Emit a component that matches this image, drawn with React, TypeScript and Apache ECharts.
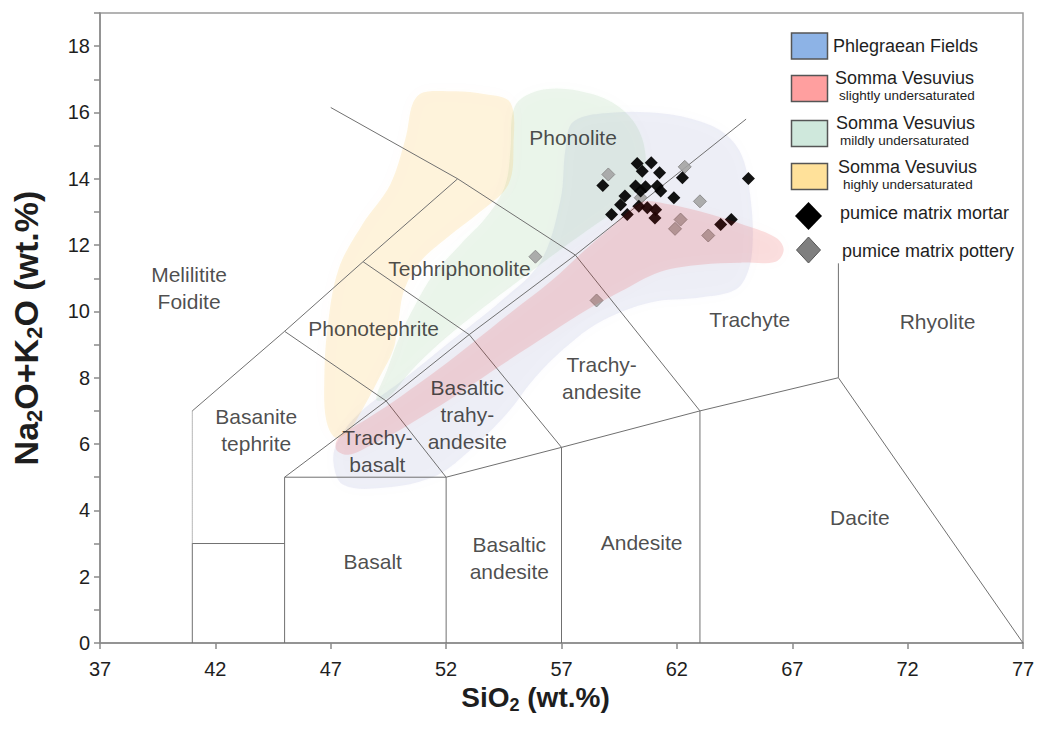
import React, { useEffect, useRef } from 'react';
import * as echarts from 'echarts';

const FONT = '"Liberation Sans", Arial, Helvetica, sans-serif';
const TEXT = '#1e1e1e';

// Axis ticks
const xTickValues = [37, 42, 47, 52, 57, 62, 67, 72, 77];
const yLabelValues = [0, 2, 4, 6, 8, 10, 12, 14, 16, 18];

// TAS boundary lines (SiO2, Na2O+K2O)
const tasSolidLines = [
  [[41, 0], [41, 3], [45, 3]],
  [[45, 0], [45, 5], [52, 5], [52, 0]],
  [[52, 5], [57, 5.9], [63, 7], [69, 8], [77, 0]],
  [[57, 0], [57, 5.9]],
  [[63, 0], [63, 7]],
  [[69, 8], [69, 11.45]],
  [[49.4, 7.3], [52, 5]],
  [[53, 9.3], [57, 5.9]],
  [[57.6, 11.7], [63, 7]],
  [[45, 9.4], [49.4, 7.3]],
  [[48.4, 11.5], [53, 9.3]],
  [[47, 16.15], [52.5, 14], [57.6, 11.7]],
  [[45, 5], [49.4, 7.3], [53, 9.3], [57.6, 11.7], [65, 15.8]],
  [[41, 7], [45, 9.4], [48.4, 11.5], [52.5, 14]],
];
const tasDottedLines = [[[41, 3], [41, 7]]];

// Compositional fields
const phlegraeanField = [
  [57.52, 15.73], [59.26, 16.0], [61.43, 15.97], [63.03, 15.73], [64.12, 15.34], [64.85, 14.64],
  [65.2, 13.38], [65.29, 12.17], [65.11, 11.26], [64.55, 10.66], [63.03, 10.42], [60.86, 10.27],
  [58.69, 9.69], [57.17, 8.91], [55.79, 7.95], [54.66, 6.94], [52.92, 5.74], [51.45, 5.01],
  [49.28, 4.68], [47.54, 4.77], [47.11, 5.47], [47.33, 6.13], [48.28, 6.97], [50.02, 7.88],
  [52.18, 9.09], [54.35, 10.3], [56.09, 11.5], [56.96, 13.38], [57.17, 14.89],
];
const slightlyField = [
  [47.33, 6.19], [48.71, 6.82], [50.02, 7.43], [51.75, 8.3], [53.05, 9.0], [54.79, 9.96],
  [56.52, 10.9], [58.04, 11.87], [59.34, 12.65], [60.43, 13.29], [61.51, 13.25], [63.03, 13.01],
  [64.98, 12.59], [66.28, 12.23], [66.63, 11.87], [66.28, 11.5], [64.77, 11.47], [63.03, 11.41],
  [61.29, 11.2], [59.56, 10.6], [57.82, 9.93], [56.09, 9.15], [54.35, 8.36], [52.62, 7.55],
  [50.88, 6.79], [50.02, 6.43], [48.71, 5.95], [47.76, 5.68], [47.24, 5.83],
];
const mildlyField = [
  [55.22, 16.4], [56.31, 16.7], [57.82, 16.64], [59.21, 16.3], [60.21, 15.64], [60.64, 14.73],
  [60.43, 13.82], [59.65, 13.22], [58.48, 12.62], [56.96, 11.87], [55.22, 10.96], [53.49, 10.05],
  [51.75, 9.06], [50.45, 8.18], [49.49, 7.4], [48.97, 7.34], [49.41, 8.18], [50.02, 9.3],
  [50.67, 10.21], [51.45, 11.11], [52.62, 12.02], [53.83, 12.92], [54.57, 13.83], [54.79, 14.89],
  [54.87, 15.94],
];
const highlyField = [
  [50.75, 16.49], [52.18, 16.64], [53.7, 16.55], [54.78, 16.3], [54.92, 15.04], [54.7, 13.83],
  [53.49, 13.01], [52.05, 12.23], [50.88, 11.5], [50.19, 10.66], [49.93, 9.69], [49.71, 8.85],
  [49.06, 7.94], [48.37, 7.04], [47.76, 6.37], [47.2, 6.19], [46.8, 6.73], [46.72, 7.94],
  [46.85, 9.45], [47.33, 11.26], [48.37, 12.62], [49.58, 13.83], [50.23, 15.19],
];

// Samples
const mortarPoints = [
  [60.28, 14.46], [60.89, 14.48], [60.5, 14.23], [61.25, 14.18], [62.24, 14.03], [65.1, 14.01],
  [58.79, 13.8], [60.21, 13.78], [60.64, 13.76], [61.15, 13.78], [61.3, 13.63], [60.43, 13.63],
  [59.75, 13.48], [61.87, 13.43], [59.56, 13.22], [60.35, 13.17], [60.72, 13.13], [61.08, 13.07],
  [59.17, 12.92], [59.85, 12.92], [61.05, 12.82], [63.9, 12.62], [64.36, 12.77],
];
const potteryPoints = [
  [59.03, 14.13], [62.34, 14.36], [60.43, 13.43], [63.0, 13.32], [62.16, 12.77], [61.92, 12.49],
  [63.36, 12.29], [55.87, 11.65], [58.52, 10.33],
];

// Rock-name labels
const fieldLabels = [
  ['Phonolite', 57.5, 15.25],
  ['Tephriphonolite', 52.58, 11.28],
  ['Phonotephrite', 48.86, 9.5],
  ['Melilitite\nFoidite', 40.86, 10.7],
  ['Basanite\ntephrite', 43.77, 6.42],
  ['Trachy-\nbasalt', 49.02, 5.78],
  ['Basaltic\ntrahy-\nandesite', 52.92, 6.88],
  ['Trachy-\nandesite', 58.74, 8.0],
  ['Trachyte', 65.16, 9.75],
  ['Rhyolite', 73.3, 9.69],
  ['Dacite', 69.93, 3.77],
  ['Andesite', 60.47, 3.02],
  ['Basaltic\nandesite', 54.74, 2.56],
  ['Basalt', 48.82, 2.45],
];

function fieldSeries(name: string, pts: number[][], fill: string, z: number) {
  return {
    type: 'custom',
    name,
    z,
    silent: true,
    data: pts,
    encode: { x: 0, y: 1 },
    renderItem: (params: any, api: any) => {
      if (params.dataIndex !== 0) return null;
      const points = pts.map((p) => api.coord(p));
      return {
        type: 'polygon',
        shape: { points, smooth: 0.35 },
        style: { fill, shadowBlur: 14, shadowColor: fill },
      };
    },
  };
}

function lineSeries(seg: number[][], dotted: boolean) {
  return {
    type: 'line',
    data: seg,
    z: 2,
    silent: true,
    symbol: 'none',
    lineStyle: { color: '#707070', width: 1, type: dotted ? 'dotted' : 'solid' },
  };
}

const legendSwatches = [
  { fill: '#8db3e6', y: 33 },
  { fill: '#ff9f9f', y: 75.5 },
  { fill: '#cfe8dc', y: 120.5 },
  { fill: '#ffe19a', y: 163.5 },
];

export default function App() {
  const ref = useRef<HTMLDivElement>(null);
  useEffect(() => {
    if (!ref.current) return;
    const chart = echarts.init(ref.current, null, { renderer: 'svg' });

    const richName = (big: number, small: number, pad: number) => ({
      b: { fontSize: big, fontWeight: 'bold', fontFamily: FONT, color: TEXT },
      s: { fontSize: small, fontWeight: 'bold', fontFamily: FONT, color: TEXT, padding: [pad, 0, 0, 0] },
    });

    const graphic: any[] = [];
    legendSwatches.forEach((s) => {
      graphic.push({
        type: 'rect',
        shape: { x: 791.5, y: s.y, width: 36, height: 26 },
        style: { fill: s.fill, stroke: '#555555', lineWidth: 1.5 },
        z: 100,
      });
    });
    const legendText = (text: string, x: number, y: number, size: number) => ({
      type: 'text',
      z: 100,
      style: { text, x, y, font: `${size}px ${FONT}`, fill: TEXT, verticalAlign: 'middle', align: 'left' },
    });
    graphic.push(legendText('Phlegraean Fields', 833, 46, 18));
    graphic.push(legendText('Somma Vesuvius', 835, 77.5, 18));
    graphic.push(legendText('slightly undersaturated', 839, 95.5, 13.5));
    graphic.push(legendText('Somma Vesuvius', 836, 122.5, 18));
    graphic.push(legendText('mildly undersaturated', 840, 140.5, 13.5));
    graphic.push(legendText('Somma Vesuvius', 838, 166.5, 18));
    graphic.push(legendText('highly undersaturated', 843, 184.5, 13.5));
    graphic.push(legendText('pumice matrix mortar', 840, 213, 18));
    graphic.push(legendText('pumice matrix pottery', 842, 250.5, 18));
    graphic.push({
      type: 'polygon',
      z: 100,
      shape: { points: [[808.5, 202], [822, 216], [808.5, 230], [795, 216]] },
      style: { fill: '#000000' },
    });
    graphic.push({
      type: 'polygon',
      z: 100,
      shape: { points: [[808.5, 237], [820.5, 250], [808.5, 263], [796.5, 250]] },
      style: { fill: '#7f7f7f', stroke: '#555555', lineWidth: 1 },
    });

    const option: any = {
      animation: false,
      backgroundColor: '#ffffff',
      textStyle: { fontFamily: FONT },
      grid: {
        left: 100, right: 15, top: 13, bottom: 99,
        show: true, borderColor: '#9a9a9a', borderWidth: 1.5,
        containLabel: false, outerBoundsMode: 'none',
      },
      xAxis: {
        type: 'value', min: 37, max: 77, interval: 1,
        name: '{b|SiO}{s|2}{b| (wt.%)}',
        nameLocation: 'middle', nameGap: 33,
        nameTextStyle: { rich: richName(28, 18, 14), padding: [0, 52, 0, 0] },
        axisLine: { onZero: false, lineStyle: { color: '#8a8a8a', width: 1.5 } },
        axisTick: { show: true, customValues: xTickValues, length: 6, lineStyle: { color: '#8a8a8a', width: 1.5 } },
        axisLabel: { customValues: xTickValues, fontSize: 20, color: TEXT, fontFamily: FONT, margin: 16 },
        splitLine: { show: false },
      },
      yAxis: {
        type: 'value', min: 0, max: 19, interval: 1,
        name: '{b|Na}{s|2}{b|O+K}{s|2}{b|O (wt.%)}',
        nameLocation: 'middle', nameGap: 55, nameRotate: 90,
        nameTextStyle: { rich: richName(34, 22, 17) },
        axisLine: { onZero: false, lineStyle: { color: '#8a8a8a', width: 1.5 } },
        axisTick: { show: true, length: 6, lineStyle: { color: '#8a8a8a', width: 1.5 } },
        axisLabel: {
          fontSize: 20, color: TEXT, fontFamily: FONT, margin: 10,
          formatter: (v: number) => (yLabelValues.indexOf(v) >= 0 ? String(v) : ''),
        },
        splitLine: { show: false },
      },
      graphic,
      series: [
        fieldSeries('Phlegraean Fields', phlegraeanField, 'rgba(120,130,190,0.12)', 1),
        fieldSeries('Somma Vesuvius mildly undersaturated', mildlyField, 'rgba(110,180,110,0.12)', 1),
        fieldSeries('Somma Vesuvius highly undersaturated', highlyField, 'rgba(245,160,0,0.13)', 1),
        ...tasSolidLines.map((s) => lineSeries(s, false)),
        ...tasDottedLines.map((s) => lineSeries(s, true)),
        {
          type: 'scatter', name: 'pumice matrix pottery', z: 3, silent: true,
          symbol: 'diamond', symbolSize: 13, data: potteryPoints,
          itemStyle: { color: '#a4a4a4', borderColor: '#8a8a8a', borderWidth: 1, opacity: 0.9 },
        },
        {
          type: 'scatter', name: 'pumice matrix mortar', z: 3, silent: true,
          symbol: 'diamond', symbolSize: 13, data: mortarPoints,
          itemStyle: { color: '#050505', opacity: 0.95 },
        },
        fieldSeries('Somma Vesuvius slightly undersaturated', slightlyField, 'rgba(220,35,35,0.12)', 4),
        {
          type: 'scatter', z: 5, silent: true, symbolSize: 0,
          data: fieldLabels.map((l) => ({ name: l[0], value: [l[1], l[2]] })),
          label: {
            show: true, position: 'inside', formatter: (p: any) => p.name,
            fontSize: 21, lineHeight: 27, color: TEXT, fontFamily: FONT, align: 'center',
          },
        },
      ],
    };
    chart.setOption(option);
    return () => chart.dispose();
  }, []);
  return <div ref={ref} style={{ position: 'fixed', left: 0, top: 0, width: 1038, height: 742 }} />;
}
